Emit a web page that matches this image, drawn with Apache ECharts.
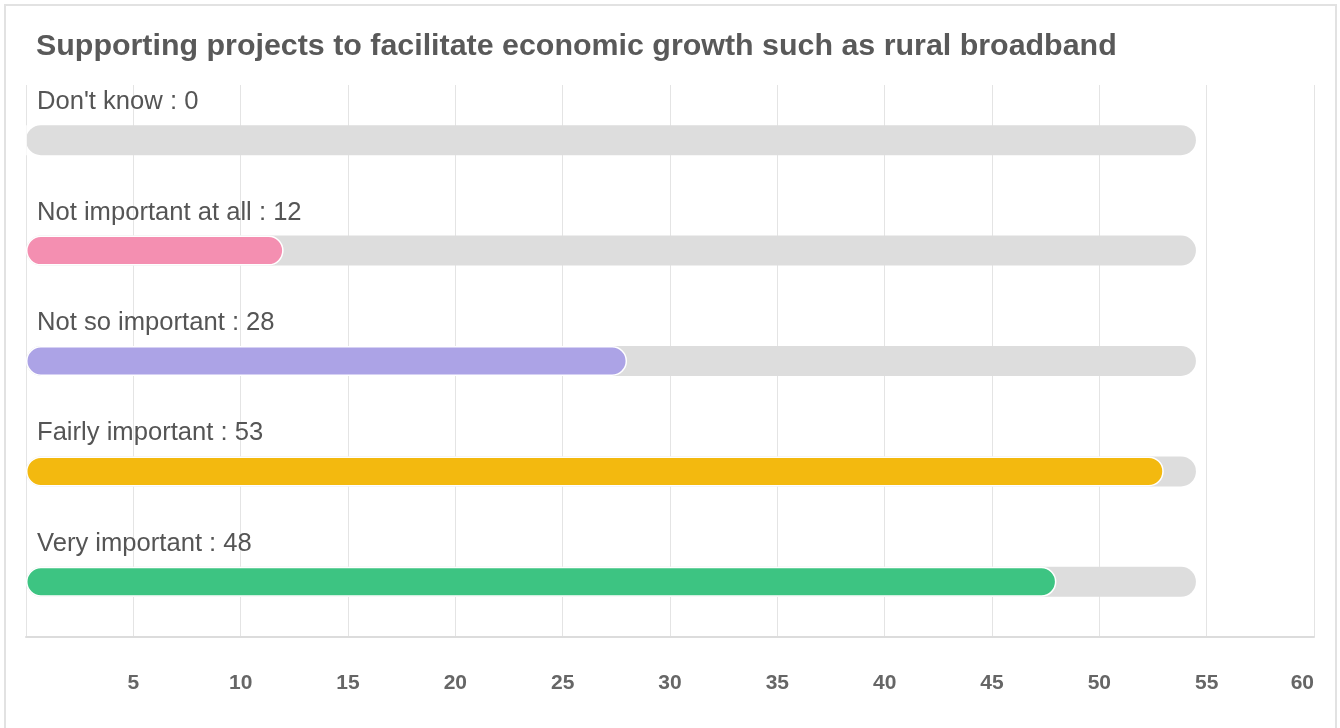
<!DOCTYPE html>
<html>
<head>
<meta charset="utf-8">
<script src="https://cdn.jsdelivr.net/npm/echarts@6/dist/echarts.min.js"></script>
<style>
html,body{margin:0;padding:0;background:#fff;}
#chart{width:1340px;height:728px;}
</style>
</head>
<body>
<div id="chart"></div>
<script>
const titleText = "Supporting projects to facilitate economic growth such as rural broadband";
const categories = ["Don't know", "Not important at all", "Not so important", "Fairly important", "Very important"];
const values = [0, 12, 28, 53, 48];
const trackValue = 54.5;
const barColors = ["#cccccc", "#F48FB1", "#ACA3E6", "#F3B90F", "#3DC482"];
const xTicks = [0, 60, 5];
const FONT = "'Liberation Sans', Arial, Helvetica, sans-serif";

const chart = echarts.init(document.getElementById('chart'));
chart.setOption({
  animation: false,
  graphic: [{
    type: 'rect', silent: true, z: -10,
    shape: {x: 5, y: 5, width: 1331, height: 760},
    style: {fill: 'none', stroke: '#e2e2e2', lineWidth: 2}
  }],
  title: {
    text: titleText, left: 36, top: 32, padding: 0,
    textStyle: {fontFamily: FONT, fontSize: 30.4, fontWeight: 'bold', color: '#595959'}
  },
  grid: {left: 26, right: 26, top: 85, bottom: 91, containLabel: false},
  xAxis: {
    type: 'value', min: xTicks[0], max: xTicks[1], interval: xTicks[2],
    axisLine: {show: true, lineStyle: {color: '#dcdcdc', width: 2}},
    axisTick: {show: false},
    splitLine: {show: true, lineStyle: {color: '#e4e4e4', width: 1}},
    axisLabel: {
      showMinLabel: false, alignMaxLabel: 'right', margin: 36,
      fontFamily: FONT, fontSize: 21, fontWeight: 'bold', color: '#666666'
    }
  },
  yAxis: {
    type: 'category', data: categories, inverse: true,
    axisLine: {show: false}, axisTick: {show: false}, axisLabel: {show: false}, splitLine: {show: false}
  },
  series: [{
    type: 'bar', name: 'track', barWidth: 30, barGap: '-100%', silent: true, z: 1,
    data: categories.map(() => trackValue),
    itemStyle: {color: '#dddddd', borderRadius: 15},
    label: {
      show: true, position: [11, -36],
      fontFamily: FONT, fontSize: 25.6, color: '#555555',
      formatter: p => categories[p.dataIndex] + ' : ' + values[p.dataIndex]
    }
  }, {
    type: 'bar', name: 'value', barWidth: 30, barGap: '-100%', z: 2,
    data: values.map((v, i) => ({value: v, itemStyle: {color: barColors[i]}})),
    itemStyle: {borderRadius: 15, borderColor: '#ffffff', borderWidth: 1.5}
  }]
});
</script>
</body>
</html>
